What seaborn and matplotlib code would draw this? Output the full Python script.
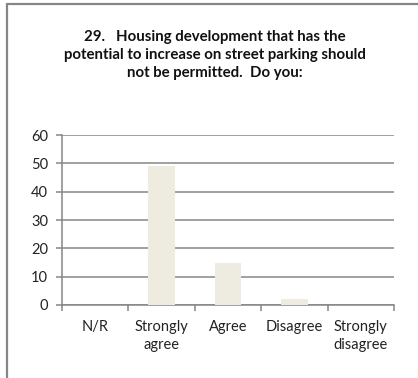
import matplotlib
matplotlib.use("Agg")
import matplotlib.pyplot as plt
from matplotlib.lines import Line2D
import seaborn as sns
import pandas as pd

categories = ["N/R", "Strongly\nagree", "Agree", "Disagree", "Strongly\ndisagree"]
responses = [0, 49, 15, 2, 0]
y_ticks = [0, 10, 20, 30, 40, 50, 60]
title = ("29.   Housing development that has the\n"
         "potential to increase on street parking should\n"
         "not be permitted.  Do you:")

sns.set_theme(style="white")
plt.rcParams["font.family"] = ["Lato", "DejaVu Sans"]

df = pd.DataFrame({"category": categories, "count": responses})

fig = plt.figure(figsize=(4.18, 3.78), dpi=100)
ax = fig.add_axes([62 / 418, 1 - 305 / 378, 332 / 418, 170 / 378])

grey = "#868686"
sns.barplot(data=df, x="category", y="count", order=categories,
            color="#EEECE1", width=0.4, saturation=1, linewidth=0,
            ax=ax, zorder=3)

ax.set_ylim(0, 60)
ax.set_xlim(-0.5, len(categories) - 0.5)
ax.set_yticks(y_ticks)
ax.yaxis.grid(True, color=grey, linewidth=1.1, zorder=0)
ax.set_axisbelow(True)
ax.set_xlabel("")
ax.set_ylabel("")

for side in ["top", "right"]:
    ax.spines[side].set_visible(False)
for side in ["left", "bottom"]:
    ax.spines[side].set_color(grey)
    ax.spines[side].set_linewidth(1.1)

# category separators as outward ticks on the x axis
ax.set_xticks([i - 0.5 for i in range(len(categories) + 1)], minor=True)
ax.tick_params(axis="x", which="minor", bottom=True, length=4, width=1.1,
               color=grey, direction="out")
ax.tick_params(axis="x", which="major", length=0, pad=11, labelsize=10.5,
               labelcolor="#222222")
ax.tick_params(axis="y", left=True, length=4, width=1.1, color=grey,
               direction="out", labelsize=10.5, labelcolor="#222222", pad=6)
for lbl in ax.get_xticklabels():
    lbl.set_linespacing(1.3)

fig.text(215 / 418, 1 - 55 / 378, title, ha="center", va="center",
         fontsize=10.8, fontweight="bold", color="#111111", linespacing=1.35)

# chart frame
fig.add_artist(Line2D([7 / 418, 1], [1 - 4 / 378, 1 - 4 / 378],
                      transform=fig.transFigure, color=grey, linewidth=1.6))
fig.add_artist(Line2D([7 / 418, 7 / 418], [0, 1 - 4 / 378],
                      transform=fig.transFigure, color=grey, linewidth=1.6))

fig.savefig("out.png", dpi=100)
